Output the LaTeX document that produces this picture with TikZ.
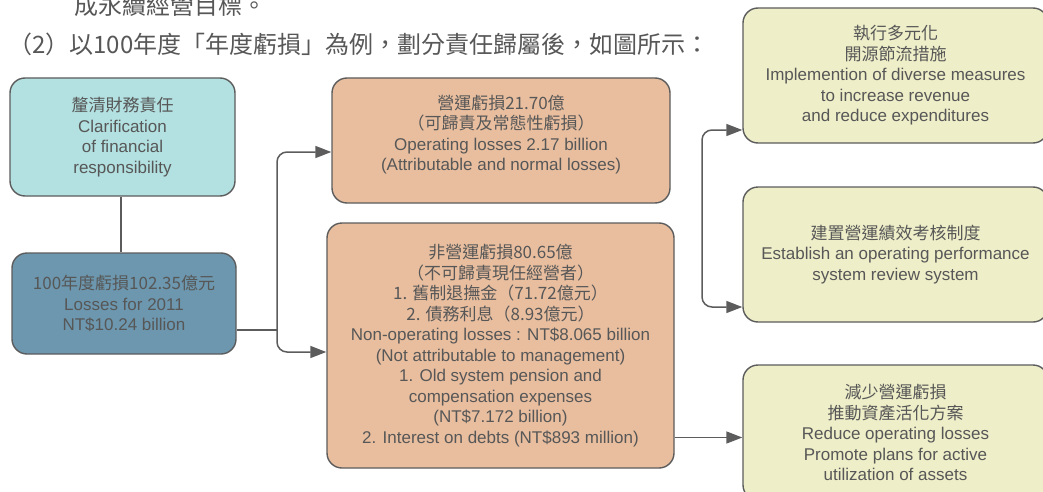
\documentclass[tikz,border=0pt]{standalone}
\usepackage{fontspec}
\setmainfont{Liberation Sans}
\newfontfamily\cjk{Noto Sans CJK TC}
\usetikzlibrary{arrows.meta}
\definecolor{txtgray}{HTML}{575757}
\definecolor{edgegray}{HTML}{5C5C5C}
\definecolor{cTeal}{HTML}{B3E0E0}
\definecolor{cBlue}{HTML}{6C97AE}
\definecolor{cSalmon}{HTML}{E8BE9F}
\definecolor{cYellow}{HTML}{EEEEC9}
\tikzset{
  box/.style={draw=edgegray, line width=1.4pt, rounded corners=15pt, inner sep=0pt,
    align=center, text=txtgray, font=\fontsize{17}{20.5}\selectfont},
  txt/.style={inner sep=0pt, align=center, text=txtgray, font=\fontsize{17}{20.5}\selectfont},
  conn/.style={draw=edgegray, line width=1.5pt},
  arr/.style={conn, -{Triangle[length=16pt,width=12pt]}},
  darr/.style={conn, {Triangle[length=16pt,width=12pt]}-{Triangle[length=16pt,width=12pt]}},
  heading/.style={anchor=west, inner sep=0pt, text=txtgray, font=\fontsize{24}{27}\selectfont\cjk},
}
\begin{document}
\begin{tikzpicture}[x=1pt,y=-1pt]
\useasboundingbox (0,0) rectangle (1043,492);
\clip (0,0) rectangle (1043,492);

% heading text
\node[heading] (t1) at (74,5) {成永續經營目標。};
\node[heading] (t2) at (8,44) {（2）以100年度「年度虧損」為例，劃分責任歸屬後，如圖所示：};

% left boxes
\node[box, fill=cTeal, minimum width=225pt, minimum height=118pt] (b1) at (122.5,137)
  {{\cjk 釐清財務責任}\\Clarification\\of financial\\responsibility};
\node[box, fill=cBlue, minimum width=224pt, minimum height=101pt] (b2) at (124,303.5)
  {{\cjk 100年度虧損102.35億元}\\Losses for 2011\\NT\$10.24 billion};

% middle boxes
\node[box, fill=cSalmon, minimum width=338pt, minimum height=125pt] (b3) at (501,140.5) {};
\node[txt] (b3t) at ([yshift=6pt]b3.center)
  {{\cjk 營運虧損21.70億}\\{\cjk （可歸責及常態性虧損）}\\Operating losses 2.17 billion\\(Attributable and normal losses)};
\node[box, fill=cSalmon, minimum width=347pt, minimum height=245pt] (b4) at (500.5,345.5)
  {{\cjk 非營運虧損80.65億}\\{\cjk （不可歸責現任經營者）}\\{\cjk 1. 舊制退撫金（71.72億元）}\\{\cjk 2. 債務利息（8.93億元）}\\
   Non-operating losses : NT\$8.065 billion\\(Not attributable to management)\\1. Old system pension and\\compensation expenses\\(NT\$7.172 billion)\\2. Interest on debts (NT\$893 million)};

% right boxes
\node[box, fill=cYellow, minimum width=305pt, minimum height=135pt] (bA) at (895.5,75.5)
  {{\cjk 執行多元化}\\{\cjk 開源節流措施}\\Implemention of diverse measures\\to increase revenue\\and reduce expenditures};
\node[box, fill=cYellow, minimum width=305pt, minimum height=135pt] (bB) at (895.5,254.5)
  {{\cjk 建置營運績效考核制度}\\Establish an operating performance\\system review system};
\node[box, fill=cYellow, minimum width=305pt, minimum height=135pt] (bC) at (895.5,432.5)
  {{\cjk 減少營運虧損}\\{\cjk 推動資產活化方案}\\Reduce operating losses\\Promote plans for active\\utilization of assets};

% connectors
\draw[conn] (b1.south -| 121,0) -- (b2.north -| 121,0);
\coordinate (split) at (277,330);
\coordinate (in3) at ([yshift=-11.5pt]b3.west);
\coordinate (in4) at ([yshift=-6.5pt]b4.west);
\draw[conn] (b2.east |- split) -- (split);
\draw[arr, rounded corners=10pt] (split) |- (in3);
\draw[arr, rounded corners=10pt] (split) |- (in4);

\coordinate (inC) at ([yshift=-5pt]bC.west);
\draw[arr] (b4.east |- inC) -- (inC);

\coordinate (inA) at ([yshift=-54.5pt]bA.west);
\coordinate (inB) at ([yshift=-52.5pt]bB.west);
\coordinate (brk) at (702,218);
\draw[darr, rounded corners=10pt] (inA) -| (brk) |- (inB);
\end{tikzpicture}
\end{document}
